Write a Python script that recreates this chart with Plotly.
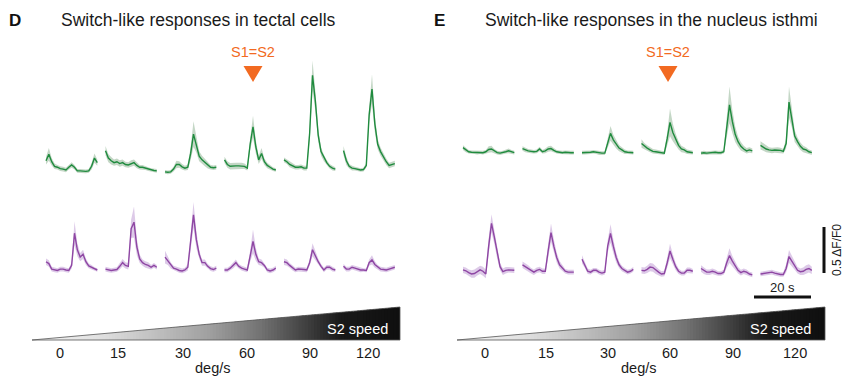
import numpy as np
import plotly.graph_objects as go

# ---------------- data (ΔF/F0, sampled every 1 s, 19 samples per 18-s trace) ----------------
T_SEC = list(range(19))
SPEEDS = ["0", "15", "30", "60", "90", "120"]

# Panel D: tectal cells, switch-like (green) and inverse (purple) responses
D_GREEN = [
    [0.10, 0.17, 0.09, 0.04, 0.03, 0.015, 0.01, 0.0, 0.03, 0.055, 0.03, -0.01, -0.01, -0.015, -0.015, -0.01, 0.04, 0.13, 0.08],
    [0.21, 0.13, 0.10, 0.08, 0.09, 0.07, 0.08, 0.06, 0.055, 0.07, 0.08, 0.05, 0.03, 0.03, 0.02, 0.01, 0.0, -0.005, -0.01],
    [-0.02, -0.025, -0.02, 0.01, 0.06, 0.06, 0.035, 0.02, 0.03, 0.18, 0.39, 0.28, 0.15, 0.11, 0.08, 0.05, 0.03, 0.025, 0.03],
    [0.11, 0.06, 0.04, 0.045, 0.045, 0.045, 0.045, 0.04, 0.02, 0.28, 0.47, 0.25, 0.11, 0.18, 0.09, 0.05, 0.03, 0.01, 0.0],
    [0.11, 0.09, 0.06, 0.045, 0.03, 0.03, 0.035, 0.02, 0.02, 0.40, 1.03, 0.75, 0.38, 0.20, 0.13, 0.08, 0.04, 0.02, 0.01],
    [0.21, 0.10, 0.04, 0.02, 0.015, 0.01, 0.0, 0.005, 0.05, 0.60, 0.88, 0.50, 0.28, 0.20, 0.14, 0.09, 0.05, 0.06, 0.07],
]
D_GREEN_SEM = [
    [0.04, 0.07, 0.04, 0.03, 0.025, 0.025, 0.025, 0.025, 0.025, 0.03, 0.025, 0.02, 0.02, 0.02, 0.02, 0.02, 0.035, 0.05, 0.035],
    [0.05, 0.045, 0.04, 0.035, 0.035, 0.035, 0.035, 0.03, 0.03, 0.035, 0.035, 0.03, 0.025, 0.025, 0.02, 0.02, 0.02, 0.02, 0.02],
    [0.02, 0.02, 0.02, 0.025, 0.04, 0.035, 0.03, 0.025, 0.03, 0.07, 0.14, 0.09, 0.055, 0.045, 0.04, 0.035, 0.025, 0.025, 0.025],
    [0.035, 0.035, 0.035, 0.035, 0.035, 0.035, 0.035, 0.03, 0.025, 0.06, 0.12, 0.07, 0.045, 0.06, 0.035, 0.03, 0.025, 0.02, 0.02],
    [0.025, 0.025, 0.03, 0.03, 0.025, 0.025, 0.025, 0.025, 0.025, 0.07, 0.16, 0.11, 0.07, 0.045, 0.035, 0.03, 0.025, 0.025, 0.02],
    [0.05, 0.045, 0.025, 0.025, 0.02, 0.02, 0.02, 0.02, 0.025, 0.08, 0.16, 0.09, 0.055, 0.045, 0.04, 0.035, 0.03, 0.03, 0.03],
]
D_PURPLE = [
    [0.09, 0.07, 0.01, 0.0, -0.005, 0.01, 0.01, 0.0, -0.005, 0.05, 0.40, 0.22, 0.14, 0.17, 0.09, 0.045, 0.03, 0.01, 0.0],
    [0.01, 0.0, -0.005, 0.0, 0.005, 0.04, 0.08, 0.05, 0.04, 0.45, 0.52, 0.25, 0.12, 0.08, 0.06, 0.05, 0.03, 0.05, 0.03],
    [0.14, 0.10, 0.05, 0.02, 0.01, -0.005, -0.01, 0.0, 0.03, 0.30, 0.60, 0.33, 0.17, 0.08, 0.08, 0.04, 0.015, 0.005, 0.02],
    [0.0, 0.0, 0.02, 0.05, 0.08, 0.04, 0.02, 0.01, 0.0, 0.15, 0.31, 0.17, 0.09, 0.08, 0.05, 0.0, -0.01, 0.0, 0.02],
    [0.09, 0.08, 0.05, 0.02, 0.0, 0.01, 0.01, 0.005, 0.0, 0.08, 0.22, 0.15, 0.09, 0.04, 0.0, 0.03, 0.03, 0.01, 0.0],
    [0.04, 0.01, 0.01, 0.03, 0.02, 0.01, 0.0, 0.0, -0.005, 0.08, 0.11, 0.06, 0.03, 0.01, 0.005, 0.0, 0.01, 0.02, 0.03],
]
D_PURPLE_SEM = [
    [0.035, 0.035, 0.025, 0.025, 0.025, 0.025, 0.025, 0.025, 0.025, 0.035, 0.13, 0.07, 0.045, 0.05, 0.035, 0.025, 0.025, 0.02, 0.02],
    [0.025, 0.025, 0.025, 0.025, 0.025, 0.035, 0.04, 0.035, 0.035, 0.10, 0.17, 0.09, 0.045, 0.035, 0.035, 0.035, 0.025, 0.025, 0.025],
    [0.07, 0.045, 0.035, 0.025, 0.025, 0.025, 0.025, 0.025, 0.035, 0.08, 0.14, 0.09, 0.045, 0.035, 0.035, 0.025, 0.025, 0.025, 0.025],
    [0.025, 0.025, 0.025, 0.035, 0.035, 0.025, 0.025, 0.025, 0.025, 0.06, 0.13, 0.07, 0.035, 0.035, 0.025, 0.025, 0.025, 0.025, 0.025],
    [0.035, 0.035, 0.025, 0.025, 0.025, 0.025, 0.025, 0.025, 0.025, 0.035, 0.07, 0.045, 0.035, 0.025, 0.025, 0.025, 0.025, 0.025, 0.02],
    [0.025, 0.025, 0.025, 0.025, 0.025, 0.025, 0.025, 0.02, 0.02, 0.035, 0.05, 0.035, 0.025, 0.025, 0.025, 0.025, 0.025, 0.025, 0.025],
]

# Panel E: nucleus isthmi
E_GREEN = [
    [0.055, 0.03, 0.01, 0.005, 0.005, 0.0, 0.005, 0.0, 0.01, 0.035, 0.04, 0.015, 0.0, -0.005, 0.0, 0.01, 0.02, 0.01, 0.0],
    [0.045, 0.03, 0.02, 0.015, 0.01, 0.015, 0.04, 0.01, 0.02, 0.04, 0.045, 0.025, 0.01, 0.005, 0.0, 0.005, 0.0, 0.0, 0.0],
    [0.0, 0.0, 0.0, 0.005, 0.01, 0.005, -0.005, -0.005, -0.005, 0.10, 0.21, 0.14, 0.09, 0.05, 0.03, 0.01, 0.005, 0.005, 0.0],
    [0.10, 0.07, 0.05, 0.03, 0.015, 0.01, 0.005, 0.0, -0.005, 0.15, 0.33, 0.22, 0.14, 0.08, 0.04, 0.03, 0.01, 0.005, 0.0],
    [-0.005, 0.0, -0.005, 0.0, 0.0, 0.005, 0.0, 0.0, 0.01, 0.25, 0.52, 0.34, 0.20, 0.12, 0.07, 0.04, 0.02, 0.03, 0.02],
    [0.08, 0.06, 0.04, 0.03, 0.025, 0.03, 0.03, 0.025, 0.015, 0.10, 0.55, 0.38, 0.18, 0.12, 0.07, 0.04, 0.03, 0.01, 0.0],
]
E_GREEN_SEM = [
    [0.025, 0.025, 0.02, 0.02, 0.02, 0.02, 0.02, 0.02, 0.02, 0.035, 0.035, 0.025, 0.02, 0.02, 0.02, 0.02, 0.025, 0.02, 0.02],
    [0.025, 0.025, 0.02, 0.02, 0.02, 0.02, 0.025, 0.02, 0.025, 0.03, 0.03, 0.025, 0.02, 0.02, 0.02, 0.02, 0.02, 0.02, 0.02],
    [0.02, 0.02, 0.02, 0.02, 0.02, 0.02, 0.02, 0.02, 0.02, 0.045, 0.08, 0.055, 0.045, 0.035, 0.03, 0.025, 0.02, 0.02, 0.02],
    [0.045, 0.035, 0.03, 0.025, 0.025, 0.025, 0.02, 0.02, 0.02, 0.065, 0.15, 0.095, 0.065, 0.045, 0.035, 0.03, 0.025, 0.02, 0.02],
    [0.02, 0.02, 0.02, 0.02, 0.02, 0.02, 0.02, 0.02, 0.02, 0.085, 0.20, 0.125, 0.085, 0.055, 0.045, 0.035, 0.03, 0.03, 0.025],
    [0.045, 0.04, 0.035, 0.03, 0.03, 0.03, 0.03, 0.03, 0.025, 0.055, 0.17, 0.105, 0.065, 0.045, 0.04, 0.035, 0.03, 0.025, 0.025],
]
E_PURPLE = [
    [0.045, 0.035, 0.015, 0.0, 0.005, 0.03, 0.045, 0.03, 0.0, 0.30, 0.55, 0.40, 0.22, 0.08, 0.025, 0.04, 0.045, 0.045, 0.04],
    [0.10, 0.08, 0.06, 0.035, 0.02, 0.04, 0.05, 0.03, 0.03, 0.25, 0.45, 0.30, 0.18, 0.10, 0.06, 0.03, 0.02, 0.02, 0.02],
    [0.16, 0.10, 0.03, 0.02, 0.04, 0.04, 0.02, 0.01, 0.02, 0.30, 0.44, 0.30, 0.18, 0.10, 0.06, 0.04, 0.02, 0.03, 0.05],
    [0.04, 0.035, 0.05, 0.075, 0.07, 0.04, 0.02, 0.0, 0.005, 0.12, 0.25, 0.16, 0.08, 0.03, 0.01, 0.01, 0.04, 0.04, 0.03],
    [0.06, 0.035, 0.02, 0.02, 0.03, 0.02, 0.005, 0.005, 0.02, 0.12, 0.20, 0.14, 0.09, 0.04, 0.015, 0.03, 0.02, 0.0, -0.01],
    [0.0, 0.005, 0.005, 0.015, 0.02, 0.01, 0.0, -0.005, -0.005, 0.06, 0.19, 0.14, 0.09, 0.04, 0.025, 0.03, 0.05, 0.06, 0.04],
]
E_PURPLE_SEM = [
    [0.035, 0.035, 0.035, 0.04, 0.045, 0.045, 0.045, 0.05, 0.045, 0.085, 0.10, 0.075, 0.055, 0.04, 0.035, 0.035, 0.03, 0.03, 0.03],
    [0.035, 0.035, 0.035, 0.03, 0.03, 0.03, 0.03, 0.03, 0.03, 0.075, 0.10, 0.075, 0.055, 0.04, 0.03, 0.025, 0.025, 0.025, 0.025],
    [0.045, 0.035, 0.03, 0.025, 0.025, 0.025, 0.025, 0.025, 0.025, 0.065, 0.10, 0.075, 0.055, 0.035, 0.03, 0.025, 0.025, 0.025, 0.025],
    [0.035, 0.035, 0.04, 0.045, 0.045, 0.04, 0.035, 0.03, 0.03, 0.055, 0.08, 0.055, 0.04, 0.03, 0.025, 0.025, 0.03, 0.03, 0.025],
    [0.035, 0.035, 0.03, 0.03, 0.03, 0.03, 0.025, 0.025, 0.025, 0.055, 0.08, 0.055, 0.045, 0.035, 0.03, 0.03, 0.03, 0.025, 0.025],
    [0.025, 0.025, 0.025, 0.025, 0.025, 0.025, 0.025, 0.025, 0.025, 0.045, 0.07, 0.055, 0.045, 0.035, 0.035, 0.04, 0.045, 0.045, 0.04],
]

SCALE_DFF = 0.5   # vertical scale bar, ΔF/F0
SCALE_SEC = 20    # horizontal scale bar, s

# ---------------- layout constants (pixels) ----------------
W, H = 854, 381
PX_PER_S = 2.85
PX_PER_DFF = 92.0
SEG_STEP_PX = 59.5
FONT = "Liberation Sans, Arial, Helvetica, sans-serif"

GREEN = "#1f8b3e"
GREEN_BAND = "rgba(160,190,163,0.62)"
PURPLE = "#8e46a3"
PURPLE_BAND = "rgba(200,170,218,0.62)"
ORANGE = "#f26a21"


def sx(px):
    return px / PX_PER_S


def sy(py):
    return (H - py) / PX_PER_DFF


def pxp(px):
    return px / W


def pyp(py):
    return 1 - py / H


PANELS = [
    dict(x0=46, rows=[(170, D_GREEN, D_GREEN_SEM, GREEN, GREEN_BAND),
                      (270, D_PURPLE, D_PURPLE_SEM, PURPLE, PURPLE_BAND)],
         letter="D", letter_x=7, title="Switch-like responses in tectal cells", title_x=59,
         tri_x=253, wedge=(32, 400), ticks=[60, 118, 183, 247, 310, 368], deg_x=212, s2_x=357),
    dict(x0=463, rows=[(152.7, E_GREEN, E_GREEN_SEM, GREEN, GREEN_BAND),
                       (274, E_PURPLE, E_PURPLE_SEM, PURPLE, PURPLE_BAND)],
         letter="E", letter_x=432, title="Switch-like responses in the nucleus isthmi", title_x=483,
         tri_x=668, wedge=(457, 825), ticks=[485, 546, 608, 670, 733, 795], deg_x=638, s2_x=780),
]

fig = go.Figure()
t = np.array(T_SEC, dtype=float)
shapes = []
annotations = []

for p in PANELS:
    for base_py, means, sems, col, band in p["rows"]:
        for k, (m, s) in enumerate(zip(means, sems)):
            m = np.array(m)
            s = np.array(s)
            x = sx(p["x0"] + k * SEG_STEP_PX) + t
            y = sy(base_py) + m
            fig.add_trace(go.Scatter(
                x=np.concatenate([x, x[::-1]]),
                y=np.concatenate([y + s, (y - s)[::-1]]),
                fill="toself", fillcolor=band, line=dict(width=0),
                mode="lines", hoverinfo="skip", showlegend=False))
            fig.add_trace(go.Scatter(
                x=x, y=y, mode="lines", line=dict(color=col, width=1.4),
                showlegend=False, hoverinfo="skip"))

    # panel letter and title
    annotations.append(dict(x=pxp(p["letter_x"]), y=pyp(20), xref="paper", yref="paper",
                            text=f"<b>{p['letter']}</b>", showarrow=False, xanchor="left",
                            yanchor="middle", font=dict(family=FONT, size=17, color="#111")))
    annotations.append(dict(x=pxp(p["title_x"]), y=pyp(20), xref="paper", yref="paper",
                            text=p["title"], showarrow=False, xanchor="left", yanchor="middle",
                            font=dict(family=FONT, size=17.5, color="#1a1a1a")))
    # S1=S2 marker
    annotations.append(dict(x=pxp(p["tri_x"]), y=pyp(52), xref="paper", yref="paper",
                            text="S1=S2", showarrow=False, xanchor="center", yanchor="middle",
                            font=dict(family=FONT, size=14.5, color=ORANGE)))
    tx = p["tri_x"]
    shapes.append(dict(type="path", xref="paper", yref="paper",
                       path=f"M {pxp(tx-9.5)} {pyp(66)} L {pxp(tx+9.5)} {pyp(66)} L {pxp(tx)} {pyp(82)} Z",
                       fillcolor=ORANGE, line=dict(width=0)))

    # gradient wedge (built from thin overlapping slices)
    xl, xr = p["wedge"]
    yb, yt = 340, 307
    n = 120
    ov = 2.0
    fstops = [0, 0.18, 0.32, 0.48, 0.62, 0.73, 0.84, 1.0]
    gstops = [245, 225, 195, 160, 115, 70, 25, 15]
    for i in range(n):
        f0, f1 = i / n, (i + 1) / n
        xa = xl + f0 * (xr - xl)
        xb = min(xl + f1 * (xr - xl) + ov, xr)
        fb = (xb - xl) / (xr - xl)
        ya, yb2 = yb + f0 * (yt - yb), yb + fb * (yt - yb)
        g = int(round(np.interp((f0 + f1) / 2, fstops, gstops)))
        c = f"rgb({g},{g},{g})"
        shapes.append(dict(type="path", xref="paper", yref="paper",
                           path=(f"M {pxp(xa)} {pyp(yb)} L {pxp(xb)} {pyp(yb)} "
                                 f"L {pxp(xb)} {pyp(yb2)} L {pxp(xa)} {pyp(ya)} Z"),
                           fillcolor=c, line=dict(width=0), layer="below"))
    shapes.append(dict(type="path", xref="paper", yref="paper",
                       path=f"M {pxp(xl)} {pyp(yb)} L {pxp(xr)} {pyp(yb)} L {pxp(xr)} {pyp(yt)} Z",
                       fillcolor="rgba(0,0,0,0)", line=dict(color="#555", width=0.8)))
    annotations.append(dict(x=pxp(p["s2_x"]), y=pyp(329), xref="paper", yref="paper",
                            text="S2 speed", showarrow=False, xanchor="center", yanchor="middle",
                            font=dict(family=FONT, size=14.5, color="white")))
    for lab, tpx in zip(SPEEDS, p["ticks"]):
        annotations.append(dict(x=pxp(tpx), y=pyp(353), xref="paper", yref="paper",
                                text=lab, showarrow=False, xanchor="center", yanchor="middle",
                                font=dict(family=FONT, size=14.5, color="#1a1a1a")))
    annotations.append(dict(x=pxp(p["deg_x"]), y=pyp(368), xref="paper", yref="paper",
                            text="deg/s", showarrow=False, xanchor="center", yanchor="middle",
                            font=dict(family=FONT, size=14.5, color="#1a1a1a")))

# scale bars (in data units)
vb_x = sx(824)
vb_y0 = sy(273)
shapes.append(dict(type="line", xref="x", yref="y", x0=vb_x, x1=vb_x, y0=vb_y0, y1=vb_y0 + SCALE_DFF,
                   line=dict(color="#111", width=3)))
annotations.append(dict(x=pxp(837), y=(pyp(273) + pyp(273 - SCALE_DFF * PX_PER_DFF)) / 2,
                        xref="paper", yref="paper", text="0.5 ΔF/F0", textangle=-90,
                        showarrow=False, xanchor="center", yanchor="middle",
                        font=dict(family=FONT, size=12, color="#1a1a1a")))
hb_x0 = sx(754)
hb_y = sy(297)
shapes.append(dict(type="line", xref="x", yref="y", x0=hb_x0, x1=hb_x0 + SCALE_SEC, y0=hb_y, y1=hb_y,
                   line=dict(color="#111", width=3)))
annotations.append(dict(x=pxp(754 + SCALE_SEC * PX_PER_S / 2), y=pyp(287), xref="paper", yref="paper",
                        text="20 s", showarrow=False, xanchor="center", yanchor="middle",
                        font=dict(family=FONT, size=13, color="#1a1a1a")))

fig.update_layout(
    width=W, height=H, margin=dict(l=0, r=0, t=0, b=0),
    paper_bgcolor="white", plot_bgcolor="white",
    xaxis=dict(range=[0, W / PX_PER_S], visible=False, fixedrange=True),
    yaxis=dict(range=[0, H / PX_PER_DFF], visible=False, fixedrange=True),
    shapes=shapes, annotations=annotations, showlegend=False,
)
fig.write_html("out.html", config={"displayModeBar": False},
               post_script="document.body.style.margin='0px';document.body.style.overflow='hidden';")
